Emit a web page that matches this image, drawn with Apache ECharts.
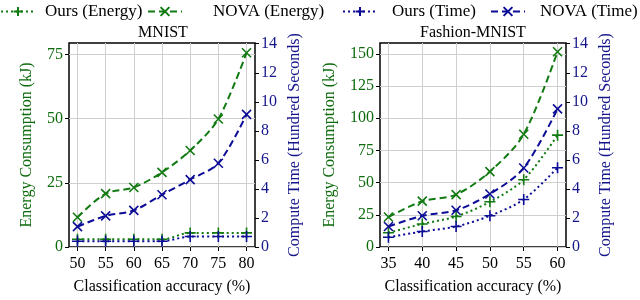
<!DOCTYPE html>
<html>
<head>
<meta charset="utf-8">
<script src="https://cdn.jsdelivr.net/npm/echarts@6/dist/echarts.min.js"></script>
<style>
html,body{margin:0;padding:0;background:#fff;}
#chart{width:640px;height:300px;}
</style>
</head>
<body>
<div id="chart"></div>
<script>
// ---- data ----
const mnistX = [50, 55, 60, 65, 70, 75, 80];
const mnistOursEnergy = [3.0, 3.0, 3.0, 3.0, 5.5, 5.5, 5.5];
const mnistNovaEnergy = [11.6, 20.8, 23.2, 29.1, 37.6, 49.9, 75.7];
const mnistOursTime = [0.4, 0.4, 0.4, 0.4, 0.72, 0.72, 0.72];
const mnistNovaTime = [1.40, 2.14, 2.52, 3.60, 4.64, 5.77, 9.13];

const fashionX = [35, 40, 45, 50, 55, 60];
const fashionOursEnergy = [11.1, 17.9, 23.7, 35.1, 52.3, 86.9];
const fashionNovaEnergy = [23.3, 35.6, 40.7, 58.6, 87.6, 151.7];
const fashionOursTime = [0.67, 1.07, 1.41, 2.15, 3.27, 5.46];
const fashionNovaTime = [1.41, 2.15, 2.53, 3.65, 5.44, 9.51];

const mnistTicksX = [50, 55, 60, 65, 70, 75, 80];
const fashionTicksX = [35, 40, 45, 50, 55, 60];
const mnistTicksEnergy = [0, 25, 50, 75];
const fashionTicksEnergy = [0, 25, 50, 75, 100, 125, 150];
const timeTicks = [0, 2, 4, 6, 8, 10, 12, 14];

const seriesNames = ['Ours (Energy)', 'NOVA (Energy)', 'Ours (Time)', 'NOVA (Time)'];
const titles = ['MNIST', 'Fashion-MNIST'];
const xName = 'Classification accuracy (%)';
const energyName = 'Energy Consumption (kJ)';
const timeName = 'Compute Time (Hundred Seconds)';

// ---- style ----
const GREEN = '#117a11';
const GREEN_TXT = '#0d6b0d';
const BLUE = '#0c0c96';
const BLUE_TXT = '#15158c';
const FONT = '"Liberation Serif", "DejaVu Serif", serif';
const PLUS = 'path://M5,0L5,10M0,5L10,5';
const CROSS = 'path://M0,0L10,10M10,0L0,10';

function zip(xs, ys) { return xs.map((x, i) => [x, ys[i]]); }

function mkSeries(name, xs, ys, xi, yi, color, dashed) {
  return {
    name: name, type: 'line', xAxisIndex: xi, yAxisIndex: yi,
    data: zip(xs, ys), smooth: 0.3,
    symbol: dashed ? CROSS : PLUS,
    symbolSize: dashed ? 9 : 11,
    itemStyle: { color: color, borderColor: color, borderWidth: 1.6 },
    lineStyle: { color: color, width: 2, type: dashed ? [7, 4] : [2, 3], cap: 'butt' },
    z: 3
  };
}

function xAxisCfg(grid, min, max, ticks) {
  return {
    type: 'value', gridIndex: grid, min: min, max: max,
    name: xName, nameLocation: 'middle', nameGap: 32,
    nameTextStyle: { color: '#000', fontFamily: FONT, fontSize: 16 },
    axisLine: { show: false },
    axisTick: { show: true, length: 4, inside: false, customValues: ticks, lineStyle: { color: '#000', width: 1 } },
    axisLabel: { customValues: ticks, color: '#000', fontFamily: FONT, fontSize: 16, margin: 9 },
    splitLine: { show: true, lineStyle: { color: '#cfcfcf', width: 1 } }
  };
}

function yEnergyCfg(grid, max, ticks, gap) {
  return {
    type: 'value', gridIndex: grid, min: 0, max: max, position: 'left',
    name: energyName, nameLocation: 'middle', nameGap: gap, nameRotate: 90,
    nameTextStyle: { color: GREEN_TXT, fontFamily: FONT, fontSize: 16 },
    axisLine: { show: false },
    axisTick: { show: true, length: 4, customValues: ticks, lineStyle: { color: '#000', width: 1 } },
    axisLabel: { customValues: ticks, color: GREEN_TXT, fontFamily: FONT, fontSize: 16, margin: 6 },
    splitLine: { show: true, lineStyle: { color: '#cfcfcf', width: 1 } }
  };
}

function yTimeCfg(grid) {
  return {
    type: 'value', gridIndex: grid, min: 0, max: 14.05, position: 'right',
    name: timeName, nameLocation: 'middle', nameGap: 32, nameRotate: 90,
    nameTextStyle: { color: BLUE_TXT, fontFamily: FONT, fontSize: 16 },
    axisLine: { show: false },
    axisTick: { show: true, length: 4, customValues: timeTicks, lineStyle: { color: '#000', width: 1 } },
    axisLabel: { customValues: timeTicks, color: BLUE_TXT, fontFamily: FONT, fontSize: 16, margin: 6 },
    splitLine: { show: false }
  };
}

const legendLefts = [0, 147, 342, 490];
const legendTextPad = [5, 26, 10, 10];
const legends = seriesNames.map((n, i) => ({
  data: [n], left: legendLefts[i], top: 3, padding: 0,
  itemWidth: 34, itemHeight: 11,
  textStyle: { color: '#000', fontFamily: FONT, fontSize: 17, padding: [0, 0, 0, legendTextPad[i]] }
}));

const option = {
  animation: false,
  backgroundColor: '#fff',
  title: [
    { text: titles[0], left: 163, top: 25, textAlign: 'center', padding: 0,
      textStyle: { fontFamily: FONT, fontSize: 16, fontWeight: 'normal', color: '#000' } },
    { text: titles[1], left: 473, top: 25, textAlign: 'center', padding: 0,
      textStyle: { fontFamily: FONT, fontSize: 16, fontWeight: 'normal', color: '#000' } }
  ],
  legend: legends,
  grid: [
    { left: 69, top: 43, width: 186, height: 209, show: true, borderColor: '#000', borderWidth: 1.5, backgroundColor: 'transparent', containLabel: false },
    { left: 380, top: 43, width: 186, height: 209, show: true, borderColor: '#000', borderWidth: 1.5, backgroundColor: 'transparent', containLabel: false }
  ],
  xAxis: [
    xAxisCfg(0, 48.5, 81.5, mnistTicksX),
    xAxisCfg(1, 33.75, 61.25, fashionTicksX)
  ],
  yAxis: [
    yEnergyCfg(0, 79.5, mnistTicksEnergy, 34),
    yTimeCfg(0),
    yEnergyCfg(1, 158.5, fashionTicksEnergy, 42),
    yTimeCfg(1)
  ],
  series: [
    mkSeries(seriesNames[0], mnistX, mnistOursEnergy, 0, 0, GREEN, false),
    mkSeries(seriesNames[1], mnistX, mnistNovaEnergy, 0, 0, GREEN, true),
    mkSeries(seriesNames[2], mnistX, mnistOursTime, 0, 1, BLUE, false),
    mkSeries(seriesNames[3], mnistX, mnistNovaTime, 0, 1, BLUE, true),
    mkSeries(seriesNames[0], fashionX, fashionOursEnergy, 1, 2, GREEN, false),
    mkSeries(seriesNames[1], fashionX, fashionNovaEnergy, 1, 2, GREEN, true),
    mkSeries(seriesNames[2], fashionX, fashionOursTime, 1, 3, BLUE, false),
    mkSeries(seriesNames[3], fashionX, fashionNovaTime, 1, 3, BLUE, true)
  ]
};

const chart = echarts.init(document.getElementById('chart'), null, { renderer: 'canvas' });
chart.setOption(option);
</script>
</body>
</html>
